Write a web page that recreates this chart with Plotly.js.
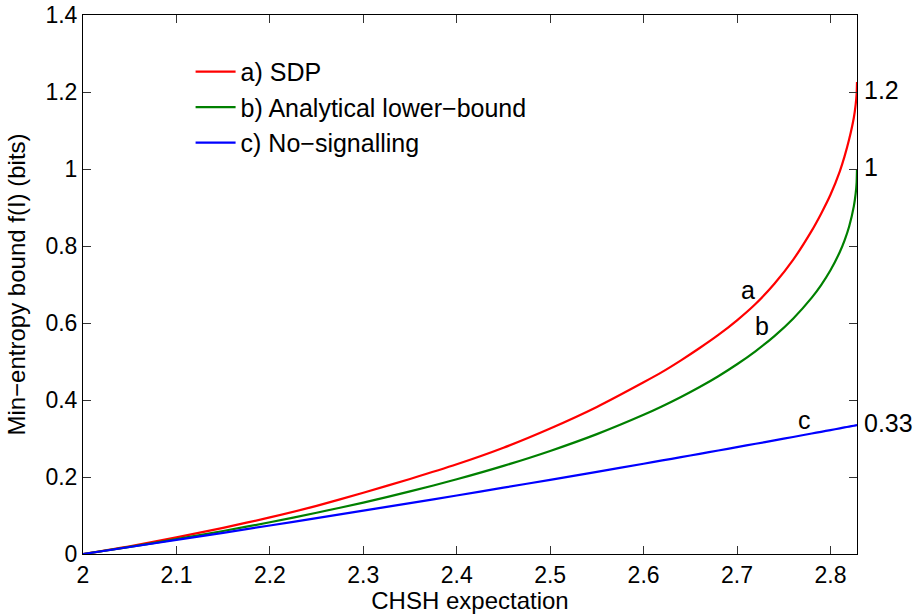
<!DOCTYPE html>
<html>
<head>
<meta charset="utf-8">
<script src="https://cdn.plot.ly/plotly-3.0.1.min.js"></script>
<style>html,body{margin:0;padding:0;background:#fff;}#chart{width:916px;height:614px;}</style>
</head>
<body>
<div id="chart"></div>
<script>
// CHSH expectation values (x)
const chsh = [2.0, 2.05, 2.1, 2.15, 2.2, 2.25, 2.3, 2.35, 2.4, 2.45, 2.5, 2.55, 2.6, 2.62, 2.64, 2.66, 2.68, 2.7,
              2.72, 2.74, 2.76, 2.78, 2.79, 2.8, 2.81, 2.815, 2.82, 2.825, 2.827, 2.828, 2.8284];
// a) SDP
const sdp = [0, 0.020, 0.043, 0.068, 0.095, 0.125, 0.159, 0.195, 0.233, 0.276, 0.326, 0.382, 0.446, 0.473, 0.503, 0.535, 0.569, 0.607,
             0.650, 0.702, 0.764, 0.840, 0.884, 0.933, 0.994, 1.032, 1.077, 1.133, 1.168, 1.195, 1.226];
// b) Analytical lower-bound
const analytical = [0, 0.0186, 0.0385, 0.0597, 0.0825, 0.1071, 0.1336, 0.1625, 0.1940, 0.2288, 0.2676, 0.3113, 0.3615, 0.3838, 0.4078, 0.4337, 0.4618, 0.4928,
                    0.5272, 0.5661, 0.6113, 0.6659, 0.6986, 0.7370, 0.7844, 0.8140, 0.8507, 0.9029, 0.9366, 0.965, 1.0];
// c) No-signalling
const noSignalling = [0, 0.0182, 0.0365, 0.0551, 0.0740, 0.0931, 0.1125, 0.1321, 0.1520, 0.1722, 0.1927, 0.2134, 0.2345, 0.2430, 0.2515, 0.2601, 0.2688, 0.2776,
                      0.2864, 0.2951, 0.3040, 0.3129, 0.3174, 0.3219, 0.3264, 0.3287, 0.3309, 0.3332, 0.3341, 0.3346, 0.3348];

const seriesNames = ['a) SDP', 'b) Analytical lower\u2212bound', 'c) No\u2212signalling'];
const seriesColors = ['#ff0000', '#008000', '#0000ff'];

// curve labels and end-value labels
const curveLabels = ['a', 'b', 'c'];
const curveLabelX = [2.7118, 2.7265, 2.7726];
const curveLabelY = [0.6865, 0.591, 0.347];
const endLabels = ['1.2', '1', '0.33'];
const endLabelY = [1.205, 1.005, 0.34];

const xTicks = [2, 2.1, 2.2, 2.3, 2.4, 2.5, 2.6, 2.7, 2.8];
const yTicks = [0, 0.2, 0.4, 0.6, 0.8, 1, 1.2, 1.4];

const FONT = 'Liberation Sans, Arial, Helvetica, sans-serif';
const ys = [sdp, analytical, noSignalling];
const traces = ys.map((y, i) => ({
  x: chsh, y: y, type: 'scatter', mode: 'lines', name: seriesNames[i],
  line: {color: seriesColors[i], width: 2.2, shape: 'spline', smoothing: 0.6}
}));

const annotations = [];
curveLabels.forEach((t, i) => annotations.push({
  x: curveLabelX[i], y: curveLabelY[i], xref: 'x', yref: 'y', text: t, showarrow: false,
  font: {family: FONT, size: 25, color: '#000'}, xanchor: 'center', yanchor: 'middle'
}));
endLabels.forEach((t, i) => annotations.push({
  x: 1, y: endLabelY[i], xref: 'paper', yref: 'y', text: t, showarrow: false, xshift: 5,
  font: {family: FONT, size: 25, color: '#000'}, xanchor: 'left', yanchor: 'middle'
}));

const axisCommon = {
  showgrid: false, zeroline: false, showline: true, linecolor: '#000', linewidth: 1,
  mirror: 'ticks', ticks: 'inside', ticklen: 8, tickwidth: 1, tickcolor: '#333',
  tickfont: {family: FONT, size: 23, color: '#000'}
};

const layout = {
  width: 916, height: 614,
  margin: {l: 83, r: 59, t: 15, b: 60},
  paper_bgcolor: '#fff', plot_bgcolor: '#fff',
  showlegend: true,
  legend: {
    x: 0.139, y: 0.937, xanchor: 'left', yanchor: 'top', bgcolor: 'rgba(0,0,0,0)',
    borderwidth: 0, font: {family: FONT, size: 25, color: '#000'}, itemwidth: 40
  },
  xaxis: Object.assign({}, axisCommon, {
    range: [2, 2.8284], tickvals: xTicks, ticktext: xTicks.map(String),
    title: {text: 'CHSH expectation', font: {family: FONT, size: 24, color: '#000'}, standoff: 3}
  }),
  yaxis: Object.assign({}, axisCommon, {
    range: [0, 1.4], tickvals: yTicks, ticktext: yTicks.map(String),
    title: {text: 'Min\u2212entropy bound f(I) (bits)', font: {family: FONT, size: 24, color: '#000'}}
  }),
  annotations: annotations
};

Plotly.newPlot('chart', traces, layout, {staticPlot: true, displayModeBar: false});
</script>
</body>
</html>
